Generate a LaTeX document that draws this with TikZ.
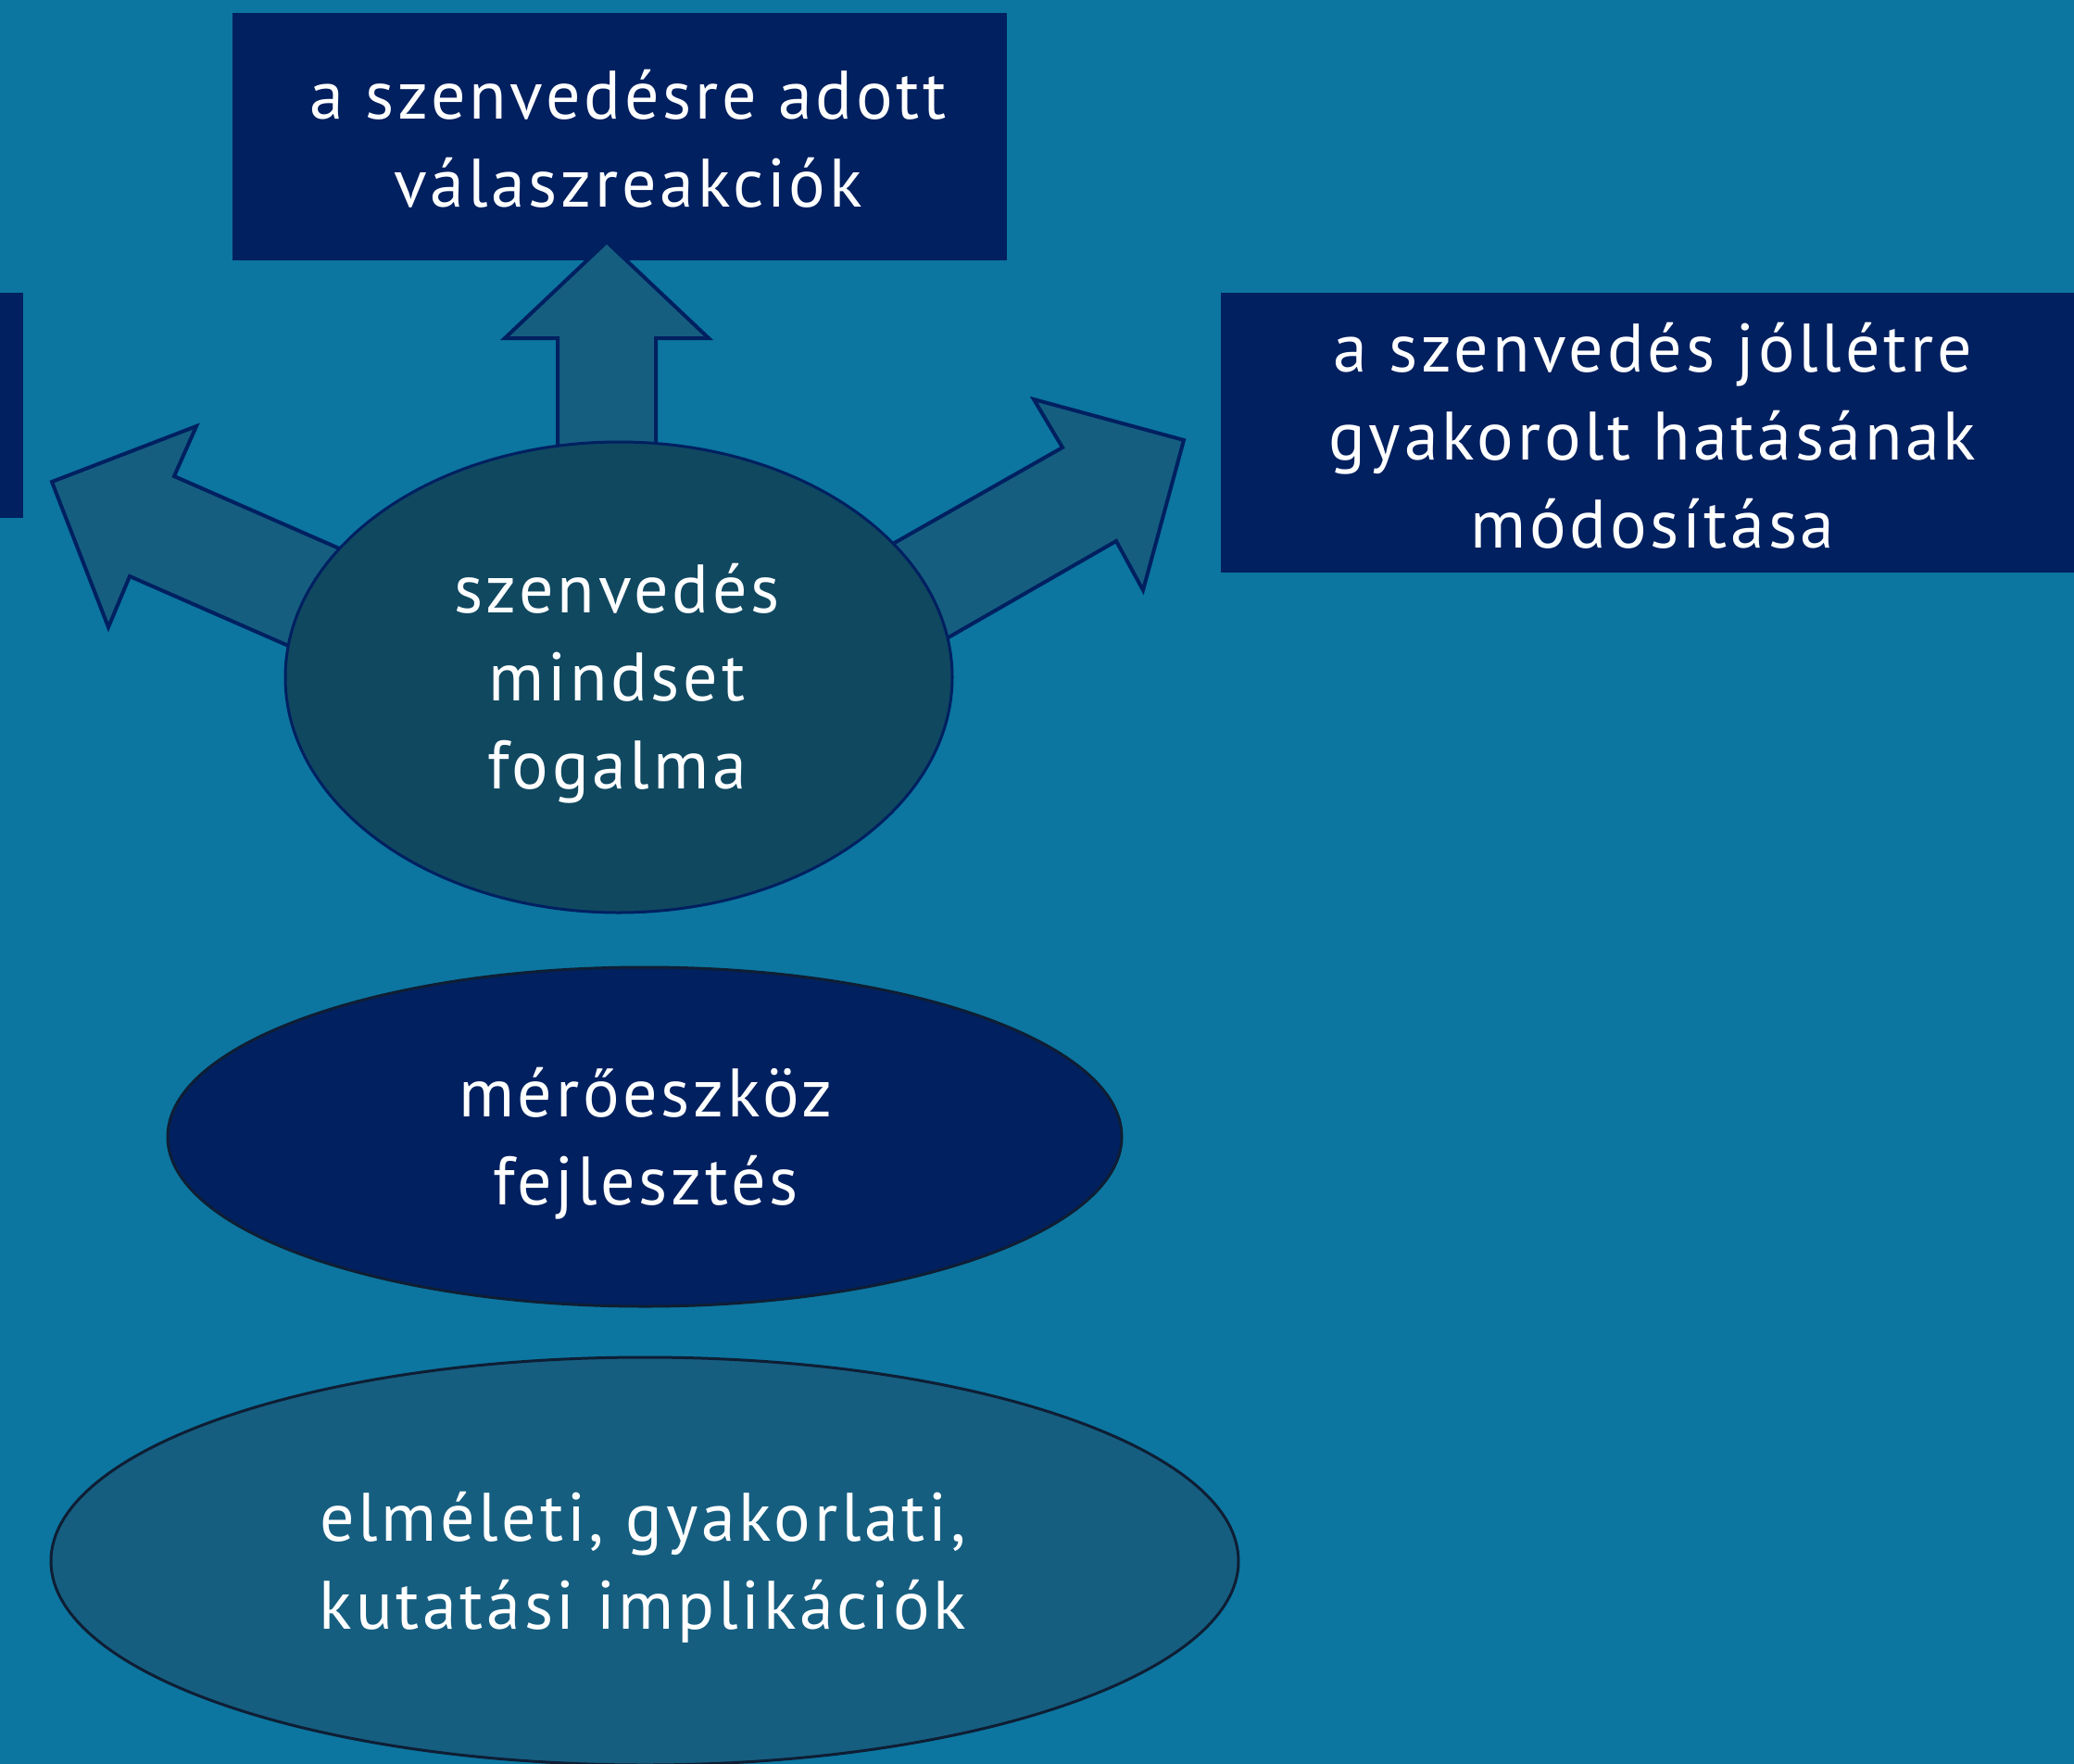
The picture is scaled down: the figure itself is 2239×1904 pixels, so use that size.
\documentclass[tikz,border=0pt]{standalone}
\usepackage{fontspec}
\setmainfont[LetterSpace=5]{PT Sans}
\usetikzlibrary{shapes.geometric}
\definecolor{bg}{HTML}{0C76A0}
\definecolor{navy}{HTML}{002060}
\definecolor{arrowfill}{HTML}{165E80}
\definecolor{coreFill}{HTML}{104860}
\definecolor{darkline}{HTML}{0E1E34}
\begin{document}
\begin{tikzpicture}[x=1pt,y=-1pt,
  txt/.style={text=white,align=center,font=\fontsize{74}{95}\selectfont,inner sep=0pt},
  navybox/.style={rectangle,fill=navy,draw=none,inner sep=0pt},
  blockarrow/.style={fill=arrowfill,draw=navy,line width=4pt,line join=miter},
  ell/.style={ellipse,inner sep=0pt}
]
% background / bounding box
\fill[bg] (0,0) rectangle (2239,1904);
\useasboundingbox (0,0) rectangle (2239,1904);

% boxes
\node[navybox,minimum width=836pt,minimum height=267pt] (resp) at (669,147.5) {};
\node[txt] (respText) at (678,150) {a szenvedésre adott\\válaszreakciók};
\node[navybox,minimum width=925pt,minimum height=302pt] (mod) at (1780.5,467) {};
\node[txt] (modText) at (1784,470) {a szenvedés jóllétre\\gyakorolt hatásának\\módosítása};
\node[navybox,minimum width=25pt,minimum height=243pt,anchor=north west] (leftbox) at (0,316) {};

% block arrows
\coordinate (upTip) at (655,261);
\draw[blockarrow] (602,490) -- (602,365) -- (545,365) -- (upTip) -- (765,365) -- (708,365) -- (708,490);
\coordinate (leftTip) at (56,520);
\draw[blockarrow] (380,598) -- (188,514) -- (212,460) -- (leftTip) -- (117,677) -- (140,622) -- (325,703);
\coordinate (rightTip) at (1278,475);
\draw[blockarrow] (955,592) -- (1147,483) -- (1116,431) -- (rightTip) -- (1234,637) -- (1205,584) -- (1010,696);

% ellipses
\node[ell,fill=coreFill,draw=navy,line width=3pt,minimum width=720pt,minimum height=508pt] (core) at (668,731) {};
\node[txt] (coreText) at (666,738) {szenvedés\\mindset\\fogalma};
\node[ell,fill=navy,draw=darkline,line width=3pt,minimum width=1030pt,minimum height=366pt] (tool) at (696,1227) {};
\node[txt] (toolText) at (697,1234) {mérőeszköz\\fejlesztés};
\node[ell,fill=arrowfill,draw=darkline,line width=3pt,minimum width=1282pt,minimum height=440pt] (impl) at (696,1685) {};
\node[txt] (implText) at (694,1692) {elméleti, gyakorlati,\\kutatási implikációk};
\end{tikzpicture}
\end{document}
